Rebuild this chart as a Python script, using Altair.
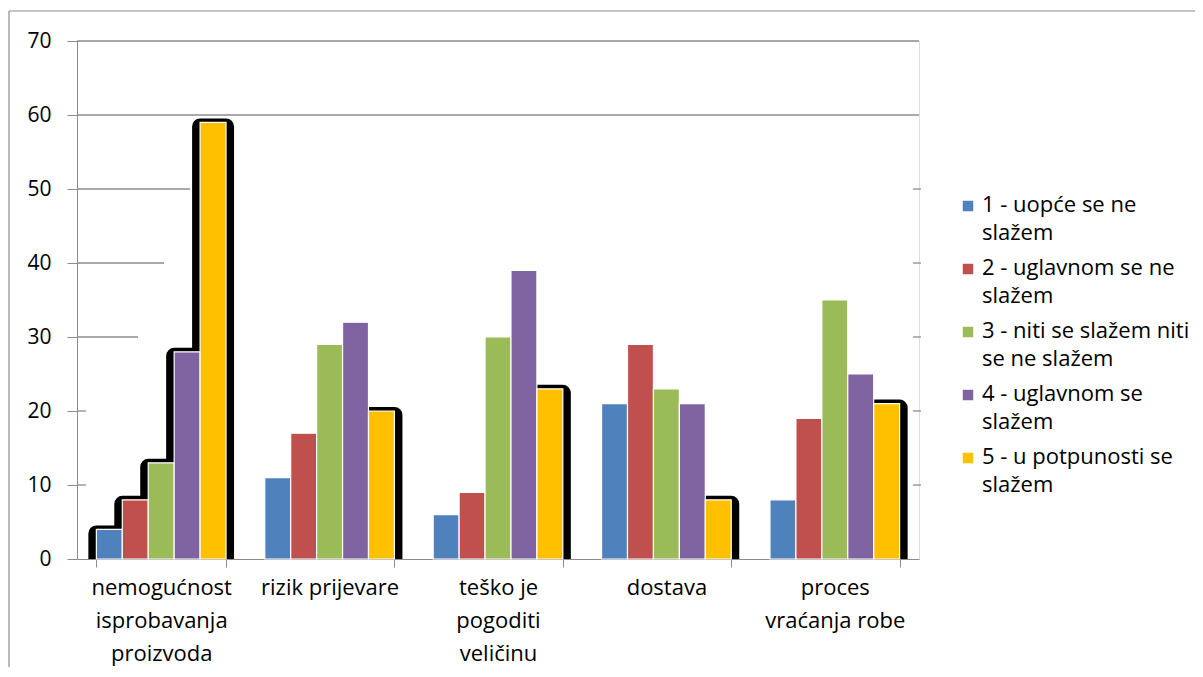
import altair as alt
import pandas as pd

categories = ["nemogućnost\nisprobavanja\nproizvoda", "rizik prijevare",
              "teško je\npogoditi\nveličinu", "dostava", "proces\nvraćanja robe"]
series = ["1 - uopće se ne\nslažem", "2 - uglavnom se ne\nslažem",
          "3 - niti se slažem niti\nse ne slažem", "4 - uglavnom se\nslažem",
          "5 - u potpunosti se\nslažem"]
colors = ["#4F81BD", "#C0504D", "#9BBB59", "#8064A2", "#FFC000"]
s1 = [4, 11, 6, 21, 8]
s2 = [8, 17, 9, 29, 19]
s3 = [13, 29, 30, 23, 35]
s4 = [28, 32, 39, 21, 25]
s5 = [59, 20, 23, 8, 21]
values_by_series = [s1, s2, s3, s4, s5]
shadow_categories = [categories[0]]
shadow_series = [series[4]]
y_ticks = [0, 10, 20, 30, 40, 50, 60, 70]
grid_full = [60, 70]
grid_partial = [(50, 113), (40, 87), (30, 61), (20, 9), (10, 9)]
right_stubs = [10, 20, 30, 40, 50]

rows = []
for si, s in enumerate(series):
    for ci, c in enumerate(categories):
        rows.append({"category": c, "series": s, "value": values_by_series[si][ci],
                     "shadow": (c in shadow_categories) or (s in shadow_series)})
df = pd.DataFrame(rows)

W, H = 842, 518
FONT = "Open Sans"
GRID = "#8c8c8c"

x_enc = alt.X("category:N", sort=categories, title=None,
              scale=alt.Scale(paddingInner=0.23, paddingOuter=0.115),
              axis=alt.Axis(labelExpr="split(datum.label, '\\n')", labelAngle=0,
                            labelFontSize=22, labelLineHeight=33, labelFont=FONT,
                            labelColor="black", labelPadding=10, labelBaseline="top",
                            tickBand="extent", tickSize=8, tickColor=GRID,
                            domainColor=GRID, labelLimit=300))
xo_enc = alt.XOffset("series:N", sort=series, scale=alt.Scale(paddingInner=0, paddingOuter=0))
y_scale = alt.Scale(domain=[0, 70], nice=False)
y_axis = alt.Axis(values=y_ticks, tickSize=10, labelFontSize=21, labelFont=FONT,
                  labelColor="black", labelPadding=16, tickColor=GRID,
                  domainColor=GRID, grid=False)


def yv(field):
    return alt.Y(field, scale=y_scale, axis=y_axis, title=None)


bars = alt.Chart(df).mark_bar(stroke="white", strokeWidth=1.2).encode(
    x=x_enc, xOffset=xo_enc, y=yv("value:Q"),
    color=alt.Color("series:N", sort=series,
                    scale=alt.Scale(domain=series, range=colors),
                    legend=alt.Legend(title=None, orient="none", legendX=880, legendY=143,
                                      symbolType="M-1,1.1H1V3.1H-1Z", symbolSize=110,
                                      symbolStrokeWidth=0,
                                      labelFontSize=22, labelFont=FONT, labelColor="black",
                                      labelBaseline="top",
                                      labelExpr="split(datum.label, '\\n')",
                                      rowPadding=3, labelOffset=3, labelLimit=300)))

shadow = alt.Chart(df).transform_filter("datum.shadow").mark_bar(
    fill="black", stroke="black", strokeWidth=16, strokeJoin="round",
    yOffset=4, clip=True
).encode(x=x_enc, xOffset=xo_enc, y=yv("value:Q"))

one = pd.DataFrame({"a": [0]})
layers = []
layers.append(alt.Chart(pd.DataFrame({"v": grid_full})).mark_rule(color=GRID, strokeWidth=1.3).encode(
    y=yv("v:Q"), x=alt.value(0), x2=alt.value(W)))
for v, length in grid_partial:
    layers.append(alt.Chart(pd.DataFrame({"v": [v]})).mark_rule(color=GRID, strokeWidth=1.3).encode(
        y=yv("v:Q"), x=alt.value(0), x2=alt.value(length)))
layers.append(alt.Chart(pd.DataFrame({"v": right_stubs})).mark_rule(color=GRID, strokeWidth=1.3).encode(
    y=yv("v:Q"), x=alt.value(W - 6), x2=alt.value(W + 2)))
border_v = alt.Chart(one).mark_rule(color=GRID, strokeWidth=1.2).encode(
    x=alt.value(-68), y=alt.value(-30), y2=alt.value(H + 120))
border_h = alt.Chart(one).mark_rule(color=GRID, strokeWidth=1.2).encode(
    y=alt.value(-30), x=alt.value(-68), x2=alt.value(W + 300))

chart = alt.layer(border_v, border_h, *layers, shadow, bars).properties(
    width=W, height=H,
    autosize=alt.AutoSizeParams(type="none"),
    padding={"left": 69, "top": 33, "right": 276, "bottom": 108}
).configure_view(stroke=None).configure(
    font=FONT, style={"guide-label": {"lineHeight": 28}})

chart.save("out.html", embed_options={"renderer": "svg", "actions": False})
